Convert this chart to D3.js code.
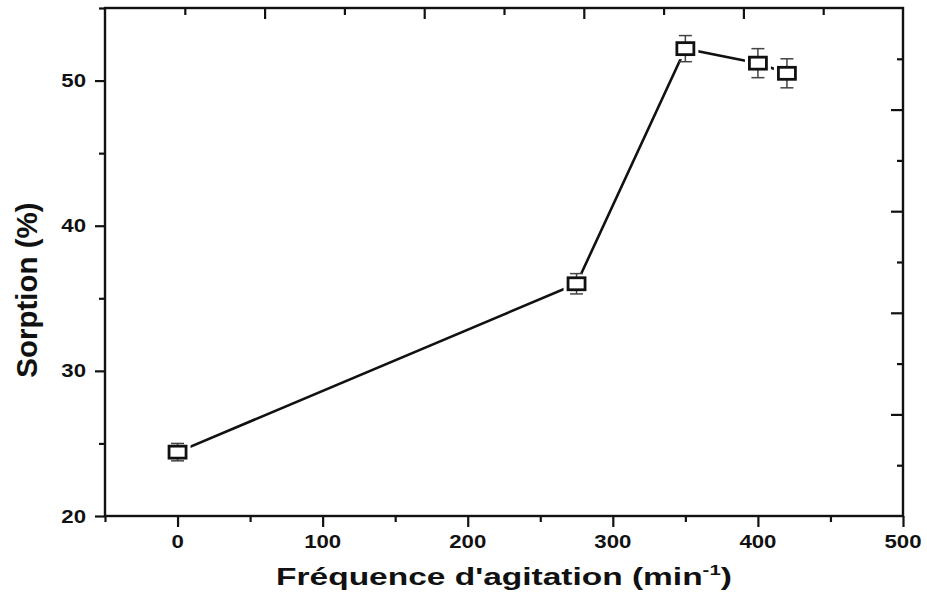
<!DOCTYPE html>
<html>
<head>
<meta charset="utf-8">
<script src="https://cdn.jsdelivr.net/npm/d3@7"></script>
<style>
  body { margin: 0; background: #fff; }
  svg text { font-family: "Liberation Sans", Arial, sans-serif; font-weight: bold; fill: #111; }
</style>
</head>
<body>
<svg id="chart" width="927" height="599"></svg>
<script>
// Data
const freq = [0, 275, 350, 400, 420];
const sorption = [24.4, 36.0, 52.2, 51.2, 50.5];
const sorptionErr = [0.6, 0.7, 0.9, 1.0, 1.0];
const xMajor = [0, 100, 200, 300, 400, 500];
const xMinor = [-50, 50, 150, 250, 350, 450];
const yMajor = [20, 30, 40, 50];
const yMinor = [25, 35, 45, 55];

const width = 927, height = 599;
const margin = { top: 8, right: 24, bottom: 83, left: 105 };

const svg = d3.select("#chart");

const x = d3.scaleLinear().domain([-50, 500]).range([margin.left, width - margin.right]);
const y = d3.scaleLinear().domain([20, 55]).range([height - margin.bottom, margin.top]);

// top and right axes just split the frame in 10 equal parts
const xTop = d3.scaleLinear().domain([0, 10]).range(x.range());
const yRight = d3.scaleLinear().domain([0, 10]).range(y.range());

const labelScale = 1.2;

// bottom axis
svg.append("g")
  .attr("transform", `translate(0,${y.range()[0]})`)
  .call(d3.axisBottom(x).tickValues(xMinor).tickSize(6).tickFormat(""));
svg.append("g")
  .attr("transform", `translate(0,${y.range()[0]})`)
  .call(d3.axisBottom(x).tickValues(xMajor).tickSize(11).tickFormat(""));

// left axis
svg.append("g")
  .attr("transform", `translate(${x.range()[0]},0)`)
  .call(d3.axisLeft(y).tickValues(yMinor).tickSize(6).tickFormat(""));
svg.append("g")
  .attr("transform", `translate(${x.range()[0]},0)`)
  .call(d3.axisLeft(y).tickValues(yMajor).tickSize(10).tickFormat(""));

// top axis (inward ticks)
svg.append("g")
  .attr("transform", `translate(0,${y.range()[1]})`)
  .call(d3.axisTop(xTop).tickValues([1, 3, 5, 7, 9]).tickSize(-7).tickFormat(""));
svg.append("g")
  .attr("transform", `translate(0,${y.range()[1]})`)
  .call(d3.axisTop(xTop).tickValues([2, 4, 6, 8]).tickSize(-11).tickFormat(""));

// right axis (inward ticks)
svg.append("g")
  .attr("transform", `translate(${x.range()[1]},0)`)
  .call(d3.axisRight(yRight).tickValues([1, 3, 5, 7, 9]).tickSize(-6).tickFormat(""));
svg.append("g")
  .attr("transform", `translate(${x.range()[1]},0)`)
  .call(d3.axisRight(yRight).tickValues([2, 4, 6, 8]).tickSize(-12).tickFormat(""));

svg.selectAll(".domain").remove();
svg.selectAll(".tick line").attr("stroke", "#111").attr("stroke-width", 2.2);

// frame
svg.append("rect")
  .attr("x", x.range()[0])
  .attr("y", y.range()[1])
  .attr("width", x.range()[1] - x.range()[0])
  .attr("height", y.range()[0] - y.range()[1])
  .attr("fill", "none")
  .attr("stroke", "#111")
  .attr("stroke-width", 2.4);

// tick labels
svg.selectAll(".xlab")
  .data(xMajor)
  .enter().append("text")
  .attr("class", "xlab")
  .attr("transform", d => `translate(${x(d)},548) scale(${labelScale},1)`)
  .attr("text-anchor", "middle")
  .style("font-size", "18.5px")
  .text(d => d);

svg.selectAll(".ylab")
  .data(yMajor)
  .enter().append("text")
  .attr("class", "ylab")
  .attr("transform", d => `translate(86,${y(d) + 6.5}) scale(${labelScale},1)`)
  .attr("text-anchor", "end")
  .style("font-size", "18.5px")
  .text(d => d);

// axis titles
const xTitle = svg.append("text")
  .attr("text-anchor", "middle")
  .style("font-size", "23px");
xTitle.append("tspan").text("Fréquence d'agitation (min");
xTitle.append("tspan").attr("dy", -10).style("font-size", "14px").text("-1");
xTitle.append("tspan").attr("dy", 10).text(")");
const xw = xTitle.node().getComputedTextLength();
xTitle.attr("transform", `translate(504,585) scale(${456 / xw},1)`);

svg.append("text")
  .attr("transform", "translate(37,290) rotate(-90)")
  .attr("text-anchor", "middle")
  .style("font-size", "29.5px")
  .text("Sorption (%)");

// series
const pts = freq.map((f, i) => ({ f: f, s: sorption[i], e: sorptionErr[i] }));

svg.append("path")
  .datum(pts)
  .attr("fill", "none")
  .attr("stroke", "#111")
  .attr("stroke-width", 2.6)
  .attr("d", d3.line().x(d => x(d.f)).y(d => y(d.s)));

// white gap around markers
svg.selectAll(".halo")
  .data(pts)
  .enter().append("rect")
  .attr("x", d => x(d.f) - 13)
  .attr("y", d => y(d.s) - 10.5)
  .attr("width", 26)
  .attr("height", 21)
  .attr("fill", "#fff");

// error bars
const eb = svg.selectAll(".err")
  .data(pts)
  .enter().append("g")
  .attr("stroke", "#444")
  .attr("stroke-width", 1.5);
eb.append("line")
  .attr("x1", d => x(d.f)).attr("x2", d => x(d.f))
  .attr("y1", d => y(d.s + d.e)).attr("y2", d => y(d.s - d.e));
eb.append("line")
  .attr("x1", d => x(d.f) - 6.5).attr("x2", d => x(d.f) + 6.5)
  .attr("y1", d => y(d.s + d.e)).attr("y2", d => y(d.s + d.e));
eb.append("line")
  .attr("x1", d => x(d.f) - 6.5).attr("x2", d => x(d.f) + 6.5)
  .attr("y1", d => y(d.s - d.e)).attr("y2", d => y(d.s - d.e));

// square markers
svg.selectAll(".marker")
  .data(pts)
  .enter().append("rect")
  .attr("x", d => x(d.f) - 8.5)
  .attr("y", d => y(d.s) - 6)
  .attr("width", 17)
  .attr("height", 12)
  .attr("fill", "#fff")
  .attr("stroke", "#111")
  .attr("stroke-width", 2.8);
</script>
</body>
</html>
